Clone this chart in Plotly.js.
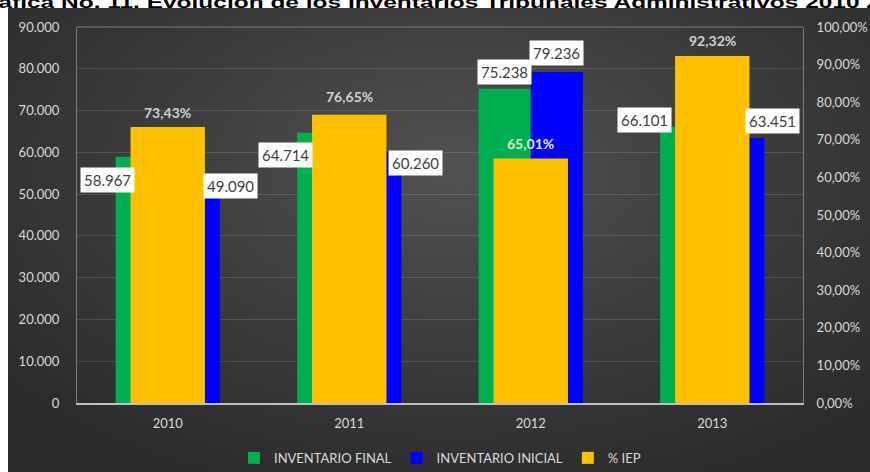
<!DOCTYPE html>
<html>
<head>
<meta charset="utf-8">
<script src="https://cdn.plot.ly/plotly-3.0.1.min.js"></script>
<style>
  html, body { margin: 0; padding: 0; background: #ffffff; }
  #wrap { position: relative; width: 870px; height: 472px; background: #ffffff; overflow: hidden; }
  #bg { position: absolute; left: 8px; top: 8px; width: 862px; height: 464px;
        background: radial-gradient(ellipse 70% 75% at 52% 35%, #525252 0%, #3e3e3e 45%, #2a2a2a 100%); }
  #chart { position: absolute; left: 0; top: 0; width: 870px; height: 472px; }
</style>
</head>
<body>
<div id="wrap"><div id="bg"></div><div id="chart"></div></div>
<script>
// ---- data ----
const years = ['2010', '2011', '2012', '2013'];
const inventarioFinal = [58967, 64714, 75238, 66101];
const inventarioInicial = [49090, 60260, 79236, 63451];
const iep = [0.7343, 0.7665, 0.6501, 0.9232];
const seriesNames = ['INVENTARIO FINAL', 'INVENTARIO INICIAL', '% IEP'];
const chartTitle = 'Gráfica No. 11. Evolución de los Inventarios Tribunales Administrativos 2010 2013';

// label offsets in pixels (layout only)
const finalLabelShift = [[-60, -23], [-64, -22], [-26, 17], [-68, 7]];
const inicialLabelShift = [[63, 12], [66, -12], [26, 19], [60, 17]];
const iepLabelShift = [[0, 14], [0, 18], [0, 15], [0, 15]];

function fmtThousands(v) {
  return String(Math.round(v)).replace(/\B(?=(\d{3})+(?!\d))/g, '.');
}
function fmtPct(v) {
  return (v * 100).toFixed(2).replace('.', ',') + '%';
}

const FONT = 'Lato, Carlito, Calibri, "Open Sans", sans-serif';
const GREEN = '#00b050', BLUE = '#0000ff', YELLOW = '#ffc000';
const TITLE_STRETCH = 1.44;   // the title in the source is a horizontally stretched bold Arial

const traces = [
  { type: 'bar', name: seriesNames[0], x: years, y: inventarioFinal, xaxis: 'x', yaxis: 'y',
    width: 0.287, offset: -0.287, marker: { color: GREEN }, hoverinfo: 'skip' },
  { type: 'bar', name: seriesNames[1], x: years, y: inventarioInicial, xaxis: 'x', yaxis: 'y',
    width: 0.287, offset: 0, marker: { color: BLUE }, hoverinfo: 'skip' },
  { type: 'bar', name: seriesNames[2], x: years, y: iep, xaxis: 'x', yaxis: 'y2',
    width: 0.41, offset: -0.205, marker: { color: YELLOW }, hoverinfo: 'skip' }
];

const annotations = [];
years.forEach((yr, i) => {
  annotations.push({ x: i, y: inventarioFinal[i], xref: 'x', yref: 'y', text: fmtThousands(inventarioFinal[i]),
    showarrow: false, xshift: finalLabelShift[i][0], yshift: finalLabelShift[i][1],
    bgcolor: '#ffffff', borderpad: 3, font: { family: FONT, size: 15, color: '#404040' } });
  annotations.push({ x: i, y: inventarioInicial[i], xref: 'x', yref: 'y', text: fmtThousands(inventarioInicial[i]),
    showarrow: false, xshift: inicialLabelShift[i][0], yshift: inicialLabelShift[i][1],
    bgcolor: '#ffffff', borderpad: 3, font: { family: FONT, size: 15, color: '#404040' } });
  annotations.push({ x: i, y: iep[i], xref: 'x', yref: 'y2', text: '<b>' + fmtPct(iep[i]) + '</b>',
    showarrow: false, xshift: iepLabelShift[i][0], yshift: iepLabelShift[i][1],
    font: { family: FONT, size: 14, color: i === 2 ? '#e2f0d9' : '#d0d0d0' } });
});
// chart title (clipped by the page top, as in the reference)
annotations.push({ xref: 'paper', yref: 'paper', x: 0.507, y: 1.0654, xanchor: 'center', yanchor: 'middle',
  text: '<b>' + chartTitle + '</b>', showarrow: false, name: 'chartTitle',
  font: { family: 'Arial, "Liberation Sans", sans-serif', size: 17, color: '#000000' } });

const layout = {
  width: 870, height: 472,
  paper_bgcolor: 'rgba(0,0,0,0)', plot_bgcolor: 'rgba(0,0,0,0)',
  margin: { l: 77, r: 67, t: 27, b: 69, autoexpand: false },
  separators: ',.',
  barmode: 'group',
  showlegend: true,
  xaxis: { type: 'category', range: [-0.5, 3.5], autorange: false, showline: true, linecolor: '#bfbfbf', linewidth: 1.5, mirror: false,
           showgrid: false, ticks: '', tickfont: { family: FONT, size: 13, color: '#d9d9d9' },
           ticklabelstandoff: 8 },
  yaxis: { range: [0, 90000], autorange: false, dtick: 10000, tickformat: ',.0f', showgrid: true,
           gridcolor: 'rgba(255,255,255,0.13)', gridwidth: 1, zeroline: false,
           showline: true, linecolor: '#7a7a7a', mirror: false, ticks: '',
           tickfont: { family: FONT, size: 13, color: '#d9d9d9' }, ticklabelstandoff: 14 },
  yaxis2: { range: [0, 1], autorange: false, dtick: 0.1, tickformat: '.2%', overlaying: 'y', side: 'right',
            showgrid: false, zeroline: false, showline: true, linecolor: '#7a7a7a', ticks: '',
            tickfont: { family: FONT, size: 13, color: '#d9d9d9' }, ticklabelstandoff: 10 },
  legend: { orientation: 'h', x: 0.5, xanchor: 'center', xref: 'paper', y: -0.146, yanchor: 'middle',
            font: { family: FONT, size: 13, color: '#d9d9d9' }, bgcolor: 'rgba(0,0,0,0)',
            itemwidth: 30, traceorder: 'normal' },
  shapes: [
    { type: 'line', xref: 'paper', yref: 'paper', x0: 0, x1: 1, y0: 1, y1: 1,
      line: { color: '#7a7a7a', width: 1 } }
  ],
  annotations: annotations
};

Plotly.newPlot('chart', traces, layout, { displayModeBar: false, staticPlot: true }).then(gd => {
  const texts = gd.querySelectorAll('.annotation-text');
  const t = texts[texts.length - 1];
  if (t) {
    const bb = t.getBBox();
    const cx = bb.x + bb.width / 2;
    t.setAttribute('transform', 'translate(' + cx + ',0) scale(' + TITLE_STRETCH + ',1) translate(' + (-cx) + ',0)');
  }
});
</script>
</body>
</html>
